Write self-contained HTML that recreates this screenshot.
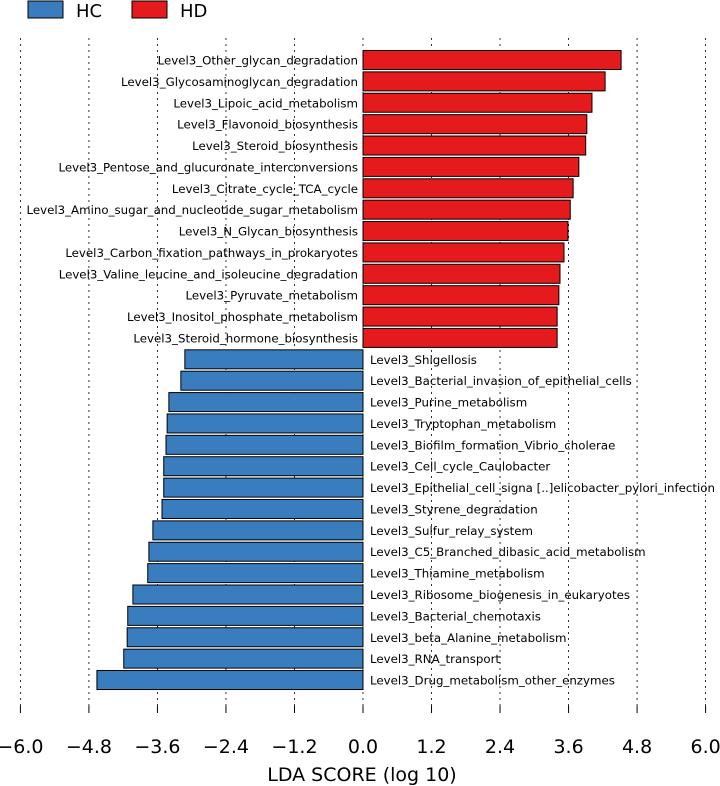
<!DOCTYPE html>
<html><head><meta charset="utf-8"><style>
html,body{margin:0;padding:0;background:#fff;}
svg{display:block;font-family:"DejaVu Sans","Liberation Sans",sans-serif;}
</style></head><body>
<svg id="chart" width="720" height="786" viewBox="0 0 720 786">
<g>
<rect x="28" y="1" width="35" height="17" fill="#3a7dbf" stroke="#000" stroke-width="1"/>
<text x="76" y="17" font-size="18">HC</text>
<rect x="132" y="1" width="35" height="17" fill="#e41a1c" stroke="#000" stroke-width="1"/>
<text x="180" y="17" font-size="18">HD</text>
</g>
<g id="grid"></g><g id="bars"></g><g id="axis"></g>
<text x="362" y="781" font-size="19" text-anchor="middle">LDA SCORE (log 10)</text>
</svg>
<script>
const categories=["Level3_Other_glycan_degradation","Level3_Glycosaminoglycan_degradation","Level3_Lipoic_acid_metabolism","Level3_Flavonoid_biosynthesis","Level3_Steroid_biosynthesis","Level3_Pentose_and_glucuronate_interconversions","Level3_Citrate_cycle_TCA_cycle","Level3_Amino_sugar_and_nucleotide_sugar_metabolism","Level3_N_Glycan_biosynthesis","Level3_Carbon_fixation_pathways_in_prokaryotes","Level3_Valine_leucine_and_isoleucine_degradation","Level3_Pyruvate_metabolism","Level3_Inositol_phosphate_metabolism","Level3_Steroid_hormone_biosynthesis","Level3_Shigellosis","Level3_Bacterial_invasion_of_epithelial_cells","Level3_Purine_metabolism","Level3_Tryptophan_metabolism","Level3_Biofilm_formation_Vibrio_cholerae","Level3_Cell_cycle_Caulobacter","Level3_Epithelial_cell_signa [..]elicobacter_pylori_infection","Level3_Styrene_degradation","Level3_Sulfur_relay_system","Level3_C5_Branched_dibasic_acid_metabolism","Level3_Thiamine_metabolism","Level3_Ribosome_biogenesis_in_eukaryotes","Level3_Bacterial_chemotaxis","Level3_beta_Alanine_metabolism","Level3_RNA_transport","Level3_Drug_metabolism_other_enzymes"];
const ldaScores=[4.52,4.24,4.01,3.92,3.9,3.78,3.68,3.63,3.59,3.52,3.45,3.43,3.40,3.40,-3.12,-3.19,-3.40,-3.43,-3.45,-3.49,-3.49,-3.52,-3.68,-3.75,-3.77,-4.03,-4.12,-4.13,-4.19,-4.66];
const tickValues=[-6,-4.8,-3.6,-2.4,-1.2,0,1.2,2.4,3.6,4.8,6];
const tickLabels=["\u22126.0","\u22124.8","\u22123.6","\u22122.4","\u22121.2","0.0","1.2","2.4","3.6","4.8","6.0"];
const NS="http://www.w3.org/2000/svg";
const x=v=>363+v*57.1;
const y=i=>60+i*21.38;
function mk(tag,attrs,parent){const e=document.createElementNS(NS,tag);for(const k in attrs)e.setAttribute(k,attrs[k]);parent.appendChild(e);return e;}
const grid=document.getElementById('grid'),bars=document.getElementById('bars'),axis=document.getElementById('axis');
tickValues.forEach((v,i)=>{
 const g=mk('line',{x1:x(v),x2:x(v),y1:38,y2:706,stroke:'#000','stroke-width':0.8,'stroke-dasharray':'2,4'},grid);
 
 
 const tk=mk('line',{x1:x(v),x2:x(v),y1:706,y2:713,stroke:'#000','stroke-width':1},axis);
 
 
 const t=mk('text',{x:x(v),y:753,'font-size':19,'text-anchor':'middle'},axis);
 t.textContent=tickLabels[i];
 
 
});
categories.forEach((c,i)=>{
 const v=ldaScores[i];
 const r=mk('rect',{x:Math.min(x(0),x(v)),y:y(i)-9.5,width:Math.abs(x(v)-x(0)),height:19,fill:v>0?'#e41a1c':'#3a7dbf',stroke:'#000','stroke-width':1},bars);
 
 
 const t=mk('text',{x:v>0?x(0)-5:x(0)+7,y:y(i)+4.5,'font-size':11.8,'text-anchor':v>0?'end':'start'},bars);
 t.textContent=c;
 
 
});
</script>
</body></html>
